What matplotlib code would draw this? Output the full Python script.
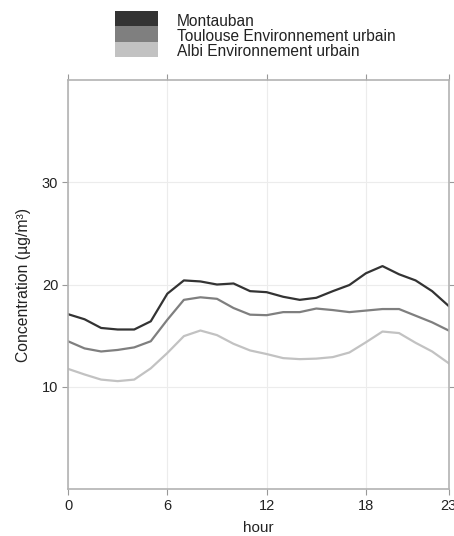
import numpy as np
import matplotlib.pyplot as plt
from matplotlib.patches import Rectangle

plt.rcParams['font.family'] = ['Liberation Sans', 'DejaVu Sans']

hours = np.arange(24)
montauban = [17.1, 16.6, 15.75, 15.6, 15.6, 16.4, 19.1, 20.4, 20.3, 20.0, 20.1, 19.35,
             19.25, 18.8, 18.5, 18.7, 19.35, 19.95, 21.1, 21.8, 21.0, 20.4, 19.35, 17.9]
toulouse = [14.45, 13.75, 13.45, 13.6, 13.85, 14.45, 16.55, 18.5, 18.75, 18.6, 17.7, 17.05,
            17.0, 17.3, 17.3, 17.65, 17.5, 17.3, 17.45, 17.6, 17.6, 16.95, 16.3, 15.5]
albi = [11.75, 11.2, 10.7, 10.55, 10.7, 11.8, 13.3, 14.95, 15.5, 15.05, 14.2, 13.55,
        13.2, 12.8, 12.7, 12.75, 12.9, 13.35, 14.35, 15.4, 15.25, 14.3, 13.45, 12.3]

names = ['Montauban', 'Toulouse Environnement urbain', 'Albi Environnement urbain']
colours = ['#333333', '#7f7f7f', '#c2c2c2']

W, H = 454, 536
fig = plt.figure(figsize=(W / 100, H / 100), dpi=100)
ax = fig.add_axes([0.1498, 0.0877, 0.8385, 0.763])

for series, c in zip([montauban, toulouse, albi], colours):
    ax.plot(hours, series, color=c, lw=1.6)

ax.set_xlim(0, 23)
ax.set_ylim(0, 40)
ax.set_xticks([0, 6, 12, 18, 23])
ax.set_yticks([10, 20, 30])
ax.grid(color='#ececec', lw=0.8)
ax.set_axisbelow(True)
for s in ax.spines.values():
    s.set_color('#b3b3b3')
    s.set_linewidth(1.2)
ax.tick_params(direction='out', length=4.5, color='#999999', labelsize=10.5,
               labelcolor='#222222', top=True, right=True, pad=2.5)
ax.set_xlabel('hour', fontsize=11, color='#222222', labelpad=6)
ax.set_ylabel('Concentration (µg/m³)', fontsize=11.3, color='#222222', labelpad=8)

# legend keys stacked as one block, labels beside them
band = 15.3
for i, (name, c) in enumerate(zip(names, colours)):
    top = 11 + i * band
    fig.add_artist(Rectangle((115 / W, 1 - (top + band) / H), 43 / W, band / H,
                             transform=fig.transFigure, facecolor=c, edgecolor='none'))
    fig.text(177 / W, 1 - (top + band - 0.8) / H, name, fontsize=11.2,
             color='#222222', va='baseline', ha='left')

plt.savefig('out.png')
